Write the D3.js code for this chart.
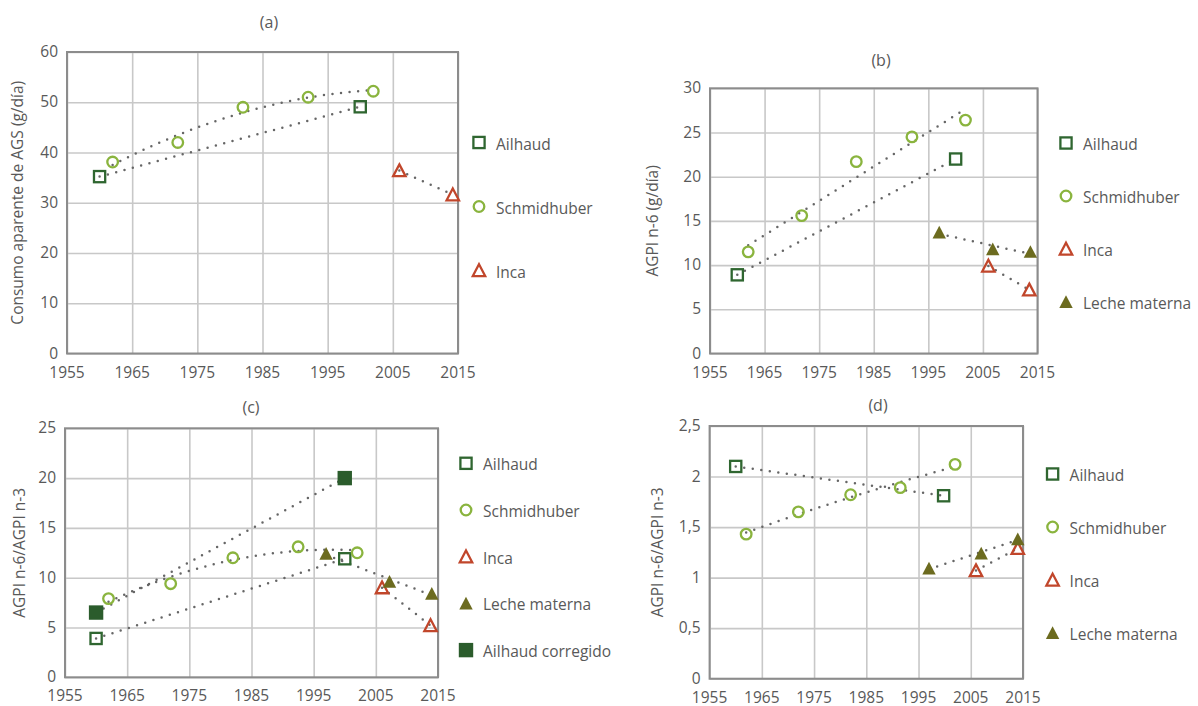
<!DOCTYPE html>
<html>
<head>
<meta charset="utf-8">
<script src="https://cdn.jsdelivr.net/npm/d3@7"></script>
<style>
  body { margin: 0; background: #fff; }
  text { font-family: "Open Sans", Lato, sans-serif; fill: #595959; }
</style>
</head>
<body>
<svg id="chart" width="1198" height="706"></svg>
<script>
// x axis ticks shared by all four panels
const xTicks = [1955, 1965, 1975, 1985, 1995, 2005, 2015];

// (a) Consumo aparente de AGS (g/día)
const aAilhaud = [[1960, 35.2], [2000, 49.1]];
const aSchmidhuber = [[1962, 38.1], [1972, 42.0], [1982, 49.0], [1992, 51.0], [2002, 52.2]];
const aInca = [[2006, 36.4], [2014.2, 31.6]];

// (b) AGPI n-6 (g/día)
const bAilhaud = [[1960, 8.9], [2000, 22.0]];
const bSchmidhuber = [[1962, 11.5], [1971.8, 15.6], [1981.8, 21.7], [1992, 24.5], [2001.8, 26.4]];
const bInca = [[2006, 9.9], [2013.5, 7.2]];
const bLeche = [[1997, 13.7], [2006.8, 11.8], [2013.7, 11.5]];

// (c) AGPI n-6/AGPI n-3
const cAilhaud = [[1960, 3.9], [2000, 11.9]];
const cSchmidhuber = [[1962, 7.9], [1972, 9.4], [1982, 12.0], [1992.5, 13.1], [2002, 12.5]];
const cInca = [[2006, 9.0], [2013.8, 5.2]];
const cLeche = [[1997, 12.4], [2007.2, 9.6], [2014, 8.4]];
const cAilhaudCorregido = [[1960, 6.5], [2000, 20.0]];

// (d) AGPI n-6/AGPI n-3
const dAilhaud = [[1960, 2.1], [1999.8, 1.81]];
const dSchmidhuber = [[1962, 1.43], [1972, 1.65], [1982, 1.82], [1991.5, 1.89], [2002, 2.12]];
const dInca = [[2006, 1.07], [2014, 1.29]];
const dLeche = [[1997, 1.09], [2007, 1.24], [2014, 1.38]];

const styles = {
  "Ailhaud": { shape: "square", color: "#2f6630" },
  "Schmidhuber": { shape: "circle", color: "#8ab43e" },
  "Inca": { shape: "triangle", color: "#c1462b" },
  "Leche materna": { shape: "triangleFilled", color: "#6c6b1f" },
  "Ailhaud corregido": { shape: "squareFilled", color: "#2b5c2c" }
};

const panels = [
  {
    title: "(a)", yTitle: "Consumo aparente de AGS (g/día)", yMax: 60, yStep: 10,
    box: { l: 67, r: 458, t: 52, b: 353.5 }, titleX: 269, titleY: 22, yTitleX: 17,
    legendX: 479, legendY: 142.5, legendStep: 64,
    series: [
      { name: "Ailhaud", data: aAilhaud, fit: "linear" },
      { name: "Schmidhuber", data: aSchmidhuber, fit: "poly2" },
      { name: "Inca", data: aInca, fit: "linear" }
    ]
  },
  {
    title: "(b)", yTitle: "AGPI n-6 (g/día)", yMax: 30, yStep: 5,
    box: { l: 710, r: 1037.5, t: 88.3, b: 353.5 }, titleX: 881, titleY: 60, yTitleX: 652,
    legendX: 1066, legendY: 143, legendStep: 53,
    series: [
      { name: "Ailhaud", data: bAilhaud, fit: "linear" },
      { name: "Schmidhuber", data: bSchmidhuber, fit: "linear" },
      { name: "Inca", data: bInca, fit: "linear" },
      { name: "Leche materna", data: bLeche, fit: "linear" }
    ]
  },
  {
    title: "(c)", yTitle: "AGPI n-6/AGPI n-3", yMax: 25, yStep: 5,
    box: { l: 65, r: 438, t: 428.3, b: 677.3 }, titleX: 251, titleY: 407, yTitleX: 19,
    legendX: 466, legendY: 463.3, legendStep: 46.7,
    series: [
      { name: "Ailhaud", data: cAilhaud, fit: "linear" },
      { name: "Schmidhuber", data: cSchmidhuber, fit: "poly2" },
      { name: "Inca", data: cInca, fit: "linear" },
      { name: "Leche materna", data: cLeche, fit: "linear" },
      { name: "Ailhaud corregido", data: cAilhaudCorregido, fit: "linear" }
    ]
  },
  {
    title: "(d)", yTitle: "AGPI n-6/AGPI n-3", yMax: 2.5, yStep: 0.5,
    box: { l: 709.6, r: 1023, t: 426, b: 678.7 }, titleX: 878, titleY: 405, yTitleX: 657,
    legendX: 1052.6, legendY: 474, legendStep: 53,
    series: [
      { name: "Ailhaud", data: dAilhaud, fit: "linear" },
      { name: "Schmidhuber", data: dSchmidhuber, fit: "poly2" },
      { name: "Inca", data: dInca, fit: "linear" },
      { name: "Leche materna", data: dLeche, fit: "linear" }
    ]
  }
];

const svg = d3.select("#chart");
const comma = d => String(d).replace(".", ",");

// least squares trend (linear or 2nd order polynomial)
function trend(pts, kind) {
  const mx = d3.mean(pts, p => p[0]);
  const xs = pts.map(p => p[0] - mx), ys = pts.map(p => p[1]);
  if (kind === "poly2" && pts.length >= 3) {
    const s = [0, 0, 0, 0, 0], t = [0, 0, 0];
    xs.forEach((x, i) => {
      for (let k = 0; k < 5; k++) s[k] += x ** k;
      for (let k = 0; k < 3; k++) t[k] += ys[i] * x ** k;
    });
    const A = [[s[0], s[1], s[2]], [s[1], s[2], s[3]], [s[2], s[3], s[4]]];
    const det = m => m[0][0] * (m[1][1] * m[2][2] - m[1][2] * m[2][1])
      - m[0][1] * (m[1][0] * m[2][2] - m[1][2] * m[2][0])
      + m[0][2] * (m[1][0] * m[2][1] - m[1][1] * m[2][0]);
    const D = det(A);
    const c = [0, 1, 2].map(j => det(A.map((row, i) => row.map((v, k) => k === j ? t[i] : v))) / D);
    return x => c[0] + c[1] * (x - mx) + c[2] * (x - mx) ** 2;
  }
  const b = d3.sum(xs, (x, i) => x * ys[i]) / d3.sum(xs, x => x * x);
  const a = d3.mean(ys);
  return x => a + b * (x - mx);
}

function marker(g, shape, color, x, y) {
  if (shape === "square") {
    g.append("rect").attr("x", x - 5.6).attr("y", y - 5.6).attr("width", 11.2).attr("height", 11.2)
      .attr("fill", "none").attr("stroke", color).attr("stroke-width", 2.3);
  } else if (shape === "squareFilled") {
    g.append("rect").attr("x", x - 7.2).attr("y", y - 7.2).attr("width", 14.4).attr("height", 14.4)
      .attr("fill", color);
  } else if (shape === "circle") {
    g.append("circle").attr("cx", x).attr("cy", y).attr("r", 5.3)
      .attr("fill", "none").attr("stroke", color).attr("stroke-width", 2.3);
  } else {
    const filled = shape === "triangleFilled";
    const h = filled ? 6.7 : 6.2;
    g.append("path")
      .attr("d", `M${x},${y - h}L${x + h},${y + h * 0.9}L${x - h},${y + h * 0.9}Z`)
      .attr("fill", filled ? color : "none")
      .attr("stroke", filled ? "none" : color)
      .attr("stroke-width", 2.3);
  }
}

panels.forEach(p => {
  const { l, r, t, b } = p.box;
  const x = d3.scaleLinear().domain([1955, 2015]).range([l, r]);
  const y = d3.scaleLinear().domain([0, p.yMax]).range([b, t]);
  const yTicks = d3.range(0, p.yMax + p.yStep / 2, p.yStep);
  const g = svg.append("g");

  // grid
  g.append("g").attr("transform", `translate(0,${b})`)
    .call(d3.axisBottom(x).tickValues(xTicks).tickSize(-(b - t)).tickFormat(""))
    .call(a => a.select(".domain").remove())
    .call(a => a.selectAll("line").attr("stroke", "#c8c8c8").attr("stroke-width", 1.6));
  g.append("g").attr("transform", `translate(${l},0)`)
    .call(d3.axisLeft(y).tickValues(yTicks).tickSize(-(r - l)).tickFormat(""))
    .call(a => a.select(".domain").remove())
    .call(a => a.selectAll("line").attr("stroke", "#c8c8c8").attr("stroke-width", 1.6));
  g.append("rect").attr("x", l).attr("y", t).attr("width", r - l).attr("height", b - t)
    .attr("fill", "none").attr("stroke", "#8c8c8c").attr("stroke-width", 2);

  // tick labels
  g.selectAll("text.xt").data(xTicks).join("text").attr("class", "xt")
    .attr("x", d => x(d)).attr("y", b + 18).attr("text-anchor", "middle")
    .attr("dominant-baseline", "central").style("font-size", "15.5px").text(d => d);
  g.selectAll("text.yt").data(yTicks).join("text").attr("class", "yt")
    .attr("x", l - 9).attr("y", d => y(d) - 1).attr("text-anchor", "end")
    .attr("dominant-baseline", "central").style("font-size", "15.5px").text(comma);

  // titles
  g.append("text").attr("x", p.titleX).attr("y", p.titleY).attr("text-anchor", "middle")
    .attr("dominant-baseline", "central").style("font-size", "16px").text(p.title);
  g.append("text").attr("transform", `translate(${p.yTitleX},${(t + b) / 2}) rotate(-90)`)
    .attr("text-anchor", "middle").attr("dominant-baseline", "central")
    .style("font-size", "15.5px").text(p.yTitle);

  // dotted trend lines
  const line = d3.line().x(d => x(d[0])).y(d => y(d[1]));
  p.series.forEach(s => {
    const f = trend(s.data, s.fit);
    const x0 = d3.min(s.data, d => d[0]), x1 = d3.max(s.data, d => d[0]);
    const pts = d3.range(0, 41).map(i => { const xv = x0 + (x1 - x0) * i / 40; return [xv, f(xv)]; });
    g.append("path").attr("d", line(pts)).attr("fill", "none")
      .attr("stroke", "#666666").attr("stroke-width", 2.5)
      .attr("stroke-linecap", "round").attr("stroke-dasharray", "0 8.6");
  });

  // markers
  p.series.forEach(s => {
    const st = styles[s.name];
    s.data.forEach(d => marker(g, st.shape, st.color, x(d[0]), y(d[1])));
  });

  // legend
  p.series.forEach((s, i) => {
    const st = styles[s.name];
    const ly = p.legendY + i * p.legendStep;
    marker(g, st.shape, st.color, p.legendX, ly);
    g.append("text").attr("x", p.legendX + 17).attr("y", ly + 1)
      .attr("dominant-baseline", "central").style("font-size", "15.5px").text(s.name);
  });
});
</script>
</body>
</html>
